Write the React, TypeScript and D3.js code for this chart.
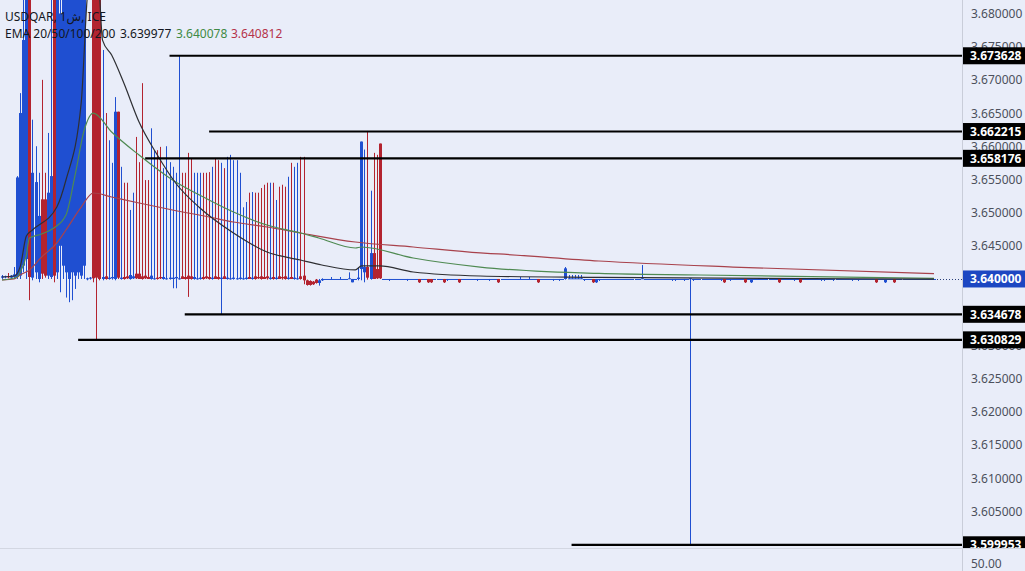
import React, { useRef, useEffect } from 'react';
import * as d3 from 'd3';

type Candle = [number, number, number, number]; // open, high, low, close

const symbolTitle = 'USDQAR, 1ش, ICE';
const emaTitle = 'EMA 20/50/100/200';
const emaLastValues = ['3.639977', '3.640078', '3.640812'];

// visible price range of the main pane and right axis labels
const priceRange = [3.59947, 3.68203];
const yTicks = [3.605, 3.61, 3.615, 3.62, 3.625, 3.63, 3.64, 3.645, 3.65, 3.655, 3.66, 3.665, 3.67, 3.675, 3.68];
const lastPrice = 3.64;

// horizontal levels drawn on the chart (price, first candle index)
const levelPrices = [3.673628, 3.662215, 3.658176, 3.634678, 3.630829, 3.599953];
const levelStarts = [55, 68, 47, 60, 25, 187];

// recurring tiny candles of the pegged period
const F: Candle = [3.64, 3.64, 3.64, 3.64];
const U: Candle = [3.64, 3.6403, 3.64, 3.64];
const D: Candle = [3.64, 3.64, 3.6397, 3.64];
const S: Candle = [3.64, 3.6406, 3.64, 3.6401];
const R: Candle = [3.64, 3.64, 3.6394, 3.6395];
const B: Candle = [3.6395, 3.64, 3.6394, 3.64];

const candles: Candle[] = [
  // 0-32
  [3.6402, 3.6406, 3.64, 3.6404], [3.6403, 3.6405, 3.6401, 3.6404], [3.6404, 3.6409, 3.6401, 3.6403],
  [3.6402, 3.6406, 3.64, 3.6405], [3.6403, 3.6418, 3.64, 3.6407], [3.6403, 3.6555, 3.64, 3.6553],
  [3.6405, 3.668, 3.64, 3.665], [3.642, 3.7, 3.641, 3.676], [3.643, 3.7, 3.64, 3.69],
  [3.69, 3.7, 3.6368, 3.6403], [3.6402, 3.664, 3.6398, 3.656], [3.641, 3.66, 3.64, 3.6546],
  [3.64, 3.656, 3.6395, 3.6495], [3.652, 3.67, 3.64, 3.6408], [3.652, 3.656, 3.6402, 3.6405],
  [3.6405, 3.662, 3.64, 3.653], [3.6403, 3.7, 3.64, 3.6555], [3.69, 3.7, 3.6395, 3.6405],
  [3.641, 3.7, 3.64, 3.69], [3.645, 3.7, 3.638, 3.68], [3.642, 3.7, 3.64, 3.685],
  [3.641, 3.7, 3.6372, 3.69], [3.64, 3.7, 3.6365, 3.685], [3.641, 3.7, 3.6368, 3.69],
  [3.6405, 3.7, 3.6385, 3.69], [3.641, 3.7, 3.64, 3.688], [3.6405, 3.7, 3.64, 3.69],
  [3.642, 3.7, 3.64, 3.69], [3.64, 3.6402, 3.6398, 3.6401], [3.6401, 3.6403, 3.6399, 3.6402],
  [3.69, 3.7, 3.6395, 3.6401], [3.69, 3.7, 3.630829, 3.6402], [3.685, 3.7, 3.6398, 3.64],
  // 33-99
  [3.64, 3.6745, 3.6398, 3.6403], [3.6404, 3.665, 3.6399, 3.64], [3.64, 3.6609, 3.6399, 3.6402],
  [3.6401, 3.6575, 3.6399, 3.6403], [3.64, 3.6674, 3.6398, 3.6652], [3.6652, 3.6652, 3.64, 3.6402],
  [3.64, 3.6569, 3.6399, 3.6402], [3.6403, 3.6545, 3.6399, 3.64], [3.6404, 3.6545, 3.64, 3.6401],
  [3.64, 3.6504, 3.6399, 3.6406], [3.6401, 3.653, 3.64, 3.6404], [3.6408, 3.6614, 3.64, 3.6401],
  [3.6408, 3.6576, 3.64, 3.64], [3.6404, 3.6695, 3.6399, 3.64], [3.6405, 3.6549, 3.64, 3.6401],
  [3.6403, 3.6549, 3.64, 3.64], [3.64, 3.6627, 3.6399, 3.6405], [3.64, 3.6594, 3.6399, 3.6401],
  [3.6402, 3.6594, 3.6399, 3.64], [3.6403, 3.6599, 3.64, 3.6401], [3.64, 3.6567, 3.6399, 3.6403],
  [3.64, 3.66, 3.6399, 3.6401], [3.64, 3.6576, 3.6399, 3.6402], [3.64, 3.6569, 3.6386, 3.6402],
  [3.6401, 3.656, 3.6386, 3.6403], [3.64, 3.673628, 3.6399, 3.6401], [3.6404, 3.656, 3.64, 3.64],
  [3.6403, 3.656, 3.6399, 3.64], [3.6405, 3.659, 3.6373, 3.64], [3.6404, 3.6582, 3.6399, 3.64],
  [3.64, 3.656, 3.6399, 3.6403], [3.64, 3.656, 3.6399, 3.6401], [3.64, 3.656, 3.6399, 3.6402],
  [3.6403, 3.656, 3.6399, 3.64], [3.6404, 3.656, 3.64, 3.6401], [3.6403, 3.6561, 3.6399, 3.64],
  [3.64, 3.6569, 3.6399, 3.6402], [3.6404, 3.6582, 3.64, 3.64], [3.6403, 3.6579, 3.6399, 3.64],
  [3.64, 3.6575, 3.634678, 3.6402], [3.6404, 3.6567, 3.64, 3.64], [3.64, 3.6584, 3.6399, 3.6402],
  [3.64, 3.6587, 3.6399, 3.6401], [3.64, 3.6579, 3.6399, 3.6402], [3.64, 3.6579, 3.6399, 3.6401],
  [3.64, 3.656, 3.6399, 3.6402], [3.64, 3.6508, 3.6399, 3.6401], [3.64, 3.6516, 3.6399, 3.6402],
  [3.6403, 3.653, 3.64, 3.64], [3.64, 3.6531, 3.6399, 3.6402], [3.6404, 3.653, 3.6399, 3.64],
  [3.6403, 3.653, 3.64, 3.6401], [3.6404, 3.6537, 3.6399, 3.64], [3.6403, 3.6542, 3.64, 3.64],
  [3.6404, 3.6545, 3.6399, 3.6401], [3.64, 3.6545, 3.6399, 3.6402], [3.6403, 3.6545, 3.6399, 3.64],
  [3.64, 3.6519, 3.6399, 3.6402], [3.6404, 3.6539, 3.64, 3.64], [3.6403, 3.6542, 3.6399, 3.6401],
  [3.6404, 3.6539, 3.6399, 3.64], [3.64, 3.6554, 3.6399, 3.6402], [3.6403, 3.6575, 3.64, 3.64],
  [3.64, 3.6569, 3.6399, 3.6402], [3.64, 3.6575, 3.6399, 3.6401], [3.6404, 3.6584, 3.6399, 3.64],
  [3.6405, 3.6584, 3.6392, 3.6398],
  // 100-105
  [3.6398, 3.6399, 3.639, 3.6391], [3.6397, 3.6398, 3.639, 3.6391], [3.6396, 3.6397, 3.6391, 3.6392],
  [3.6399, 3.64, 3.6393, 3.6394], [3.6394, 3.64, 3.639, 3.6398], [3.6398, 3.6401, 3.6397, 3.64],
  // 106-116
  F, F, U, F, F, U, F, F, [3.64, 3.641, 3.64, 3.6401], [3.6395, 3.64, 3.6395, 3.64], F,
  // 117-124
  [3.64, 3.6418, 3.6398, 3.6402], [3.6415, 3.6607, 3.6398, 3.6607], [3.641, 3.6595, 3.6395, 3.6418],
  [3.6418, 3.6623, 3.6399, 3.6402], [3.64, 3.6533, 3.6399, 3.6439], [3.6439, 3.659, 3.64, 3.64],
  [3.6415, 3.6587, 3.64, 3.6401], [3.6604, 3.6604, 3.64, 3.6401],
  // 125-136
  F, F, D, F, F, F, F, F, D, F, F, F,
  // 137-149
  R, F, F, R, R, F, F, F, R, D, F, F, F,
  // 150-169
  R, F, F, F, F, F, D, F, F, F, D, F, F, R, F, F, F, F, F, F,
  // 170-184
  U, F, F, U, F, F, R, F, F, F, F, D, F, D, F,
  // 185-190
  [3.64, 3.6418, 3.6399, 3.6416], S, S, S, S, S,
  // 191-209
  D, F, F, R, B, D, F, F, F, F, F, F, F, F, F, F, F, F, F,
  // 210
  [3.64, 3.6421, 3.64, 3.6401],
  // 211-225
  F, F, F, F, F, F, F, F, F, D, D, F, F, D, F,
  // 226
  [3.64, 3.6401, 3.599953, 3.6401],
  // 227-245
  D, F, F, F, F, F, F, F, F, D, R, F, D, F, F, F, F, R, F,
  // 246-268
  B, F, F, F, F, F, F, F, F, R, F, F, F, F, D, F, R, F, F, F, F, F, F,
  // 269-306
  D, D, F, F, D, F, F, F, F, F, D, F, D, F, F, F, F, F, R, F, F, B, F, F, R,
  F, F, F, F, F, F, F, F, F, F, F, F, F,
];

// EMA curves: [candle index, value]
const ema20: [number, number][] = [
  [0, 3.6403], [4, 3.64045], [6, 3.6419], [8, 3.64648], [10, 3.64738], [18, 3.65084], [21, 3.65491],
  [26, 3.66651], [28, 3.6825], [29, 3.6865], [31, 3.6865], [32, 3.6828], [33, 3.67599], [36, 3.67373],
  [40, 3.66952], [45, 3.66364], [51, 3.65867], [57, 3.65446], [65, 3.65069], [76, 3.64693], [87, 3.64407],
  [98, 3.64286], [105, 3.64211], [116, 3.64136], [118, 3.64196], [124, 3.64196], [135, 3.64105],
  [157, 3.64045], [196, 3.64023], [306, 3.639977],
];
const ema100: [number, number][] = [
  [0, 3.63985], [5, 3.6403], [6, 3.64105], [8, 3.64361], [9, 3.64617], [13, 3.64678], [17, 3.64768],
  [21, 3.64964], [24, 3.65566], [27, 3.66244], [30, 3.665], [36, 3.66214], [45, 3.65867], [56, 3.65491],
  [68, 3.6519], [76, 3.65009], [87, 3.64813], [98, 3.64693], [104, 3.64617], [116, 3.64467],
  [118, 3.64482], [135, 3.64316], [157, 3.6418], [196, 3.64083], [229, 3.6406], [306, 3.640078],
];
const ema200: [number, number][] = [
  [0, 3.63985], [4, 3.64], [6, 3.6406], [9, 3.64136], [13, 3.64331], [18, 3.64542], [21, 3.64738],
  [26, 3.65084], [30, 3.65295], [36, 3.65235], [45, 3.65145], [56, 3.65039], [68, 3.64934],
  [76, 3.64858], [87, 3.64783], [98, 3.64693], [116, 3.64557], [135, 3.64482], [157, 3.64392],
  [163, 3.64377], [196, 3.64271], [240, 3.6418], [306, 3.640812],
];

const lowerPaneLabel = '50.00';

const upColor = '#1f4fd1';
const downColor = '#b3232f';
const bg = '#e9edf9';

export default function App() {
  const chartRef = useRef<SVGSVGElement>(null);

  useEffect(() => {
    if (!chartRef.current) return;
    const svg = d3.select(chartRef.current);
    svg.selectAll('*').remove();

    const width = 1025;
    const height = 571;
    const plotW = 962;
    const plotH = 548;
    const font = '"Noto Sans", "DejaVu Sans", sans-serif';

    svg.append('rect').attr('width', width).attr('height', height).attr('fill', bg);

    const x = d3.scaleLinear().domain([0, candles.length - 1]).range([2, 934]);
    const y = d3.scaleLinear().domain(priceRange).range([plotH, 0]);

    const defs = svg.append('defs');
    defs.append('clipPath').attr('id', 'plot-clip')
      .append('rect').attr('width', plotW).attr('height', plotH);
    defs.append('clipPath').attr('id', 'axis-clip')
      .append('rect').attr('x', plotW).attr('width', width - plotW).attr('height', plotH);

    const plot = svg.append('g').attr('clip-path', 'url(#plot-clip)');

    // candles
    const cx = (i: number) => Math.round(x(i));
    const items = plot.append('g').selectAll('g')
      .data(candles.map((c, i) => ({ i, o: c[0], h: c[1], l: c[2], c: c[3] })))
      .join('g');

    items.append('line')
      .attr('x1', d => cx(d.i) + 0.5)
      .attr('x2', d => cx(d.i) + 0.5)
      .attr('y1', d => y(d.h))
      .attr('y2', d => y(d.l))
      .attr('stroke', d => (d.c >= d.o ? upColor : downColor))
      .attr('stroke-width', 1);

    items.append('rect')
      .attr('x', d => cx(d.i) - 1)
      .attr('width', 3)
      .attr('y', d => y(Math.max(d.o, d.c)))
      .attr('height', d => Math.max(1, Math.abs(y(d.o) - y(d.c))))
      .attr('fill', d => (d.c >= d.o ? upColor : downColor));

    // EMA lines
    const line = d3.line<[number, number]>()
      .x(d => x(d[0]))
      .y(d => y(d[1]))
      .curve(d3.curveMonotoneX);

    [
      { data: ema200, color: '#a8424c' },
      { data: ema100, color: '#4f8a52' },
      { data: ema20, color: '#2e2f33' },
    ].forEach(s => {
      plot.append('path')
        .datum(s.data)
        .attr('fill', 'none')
        .attr('stroke', s.color)
        .attr('stroke-width', 1.2)
        .attr('d', line);
    });

    // horizontal levels
    levelPrices.forEach((p, k) => {
      plot.append('line')
        .attr('x1', x(levelStarts[k]))
        .attr('x2', plotW)
        .attr('y1', y(p))
        .attr('y2', y(p))
        .attr('stroke', '#000')
        .attr('stroke-width', 2.2);
    });

    // last price dotted line
    plot.append('line')
      .attr('x1', x(candles.length - 1) + 3)
      .attr('x2', plotW)
      .attr('y1', Math.round(y(lastPrice)) + 0.5)
      .attr('y2', Math.round(y(lastPrice)) + 0.5)
      .attr('stroke', '#2a3f7a')
      .attr('stroke-dasharray', '1,2');

    // legend
    svg.append('text')
      .attr('x', 5).attr('y', 21)
      .attr('font-family', font).attr('font-size', 12)
      .attr('fill', '#131722')
      .text(symbolTitle);

    const legend = svg.append('text')
      .attr('x', 5).attr('y', 38)
      .attr('font-family', font).attr('font-size', 12)
      .attr('fill', '#131722');
    legend.append('tspan').text(emaTitle);
    const valueX = [120, 176, 231];
    const valueColors = ['#131722', '#3f8a44', '#b5334a'];
    emaLastValues.forEach((v, k) => {
      legend.append('tspan').attr('x', valueX[k]).attr('fill', valueColors[k]).text(v);
    });

    // right axis
    svg.append('line')
      .attr('x1', plotW + 0.5).attr('x2', plotW + 0.5)
      .attr('y1', 0).attr('y2', height)
      .attr('stroke', '#c9cdd9');
    svg.append('line')
      .attr('x1', 0).attr('x2', width)
      .attr('y1', plotH + 0.5).attr('y2', plotH + 0.5)
      .attr('stroke', '#d3d7e2');

    const axis = svg.append('g').attr('clip-path', 'url(#axis-clip)');
    axis.selectAll('text.tick')
      .data(yTicks)
      .join('text')
      .attr('class', 'tick')
      .attr('x', 971)
      .attr('y', d => y(d) + 4.5)
      .attr('font-family', font).attr('font-size', 12)
      .attr('fill', '#4c505c')
      .text(d => d.toFixed(6));

    const boxes = [
      ...levelPrices.map(p => ({ p, fill: '#000' })),
      { p: lastPrice, fill: '#1c47c2' },
    ];
    boxes.forEach(b => {
      axis.append('rect')
        .attr('x', plotW + 1)
        .attr('y', y(b.p) - 8.5)
        .attr('width', width - plotW - 1)
        .attr('height', 17)
        .attr('fill', b.fill);
      axis.append('text')
        .attr('x', 970)
        .attr('y', y(b.p) + 4.5)
        .attr('font-family', font).attr('font-size', 12)
        .attr('font-weight', 'bold')
        .attr('fill', '#fff')
        .text(b.p.toFixed(6));
    });

    svg.append('text')
      .attr('x', 971).attr('y', 568)
      .attr('font-family', font).attr('font-size', 12)
      .attr('fill', '#4c505c')
      .text(lowerPaneLabel);
  }, []);

  return (
    <svg
      ref={chartRef}
      width={1025}
      height={571}
      style={{ position: 'absolute', left: 0, top: 0, display: 'block' }}
    />
  );
}
